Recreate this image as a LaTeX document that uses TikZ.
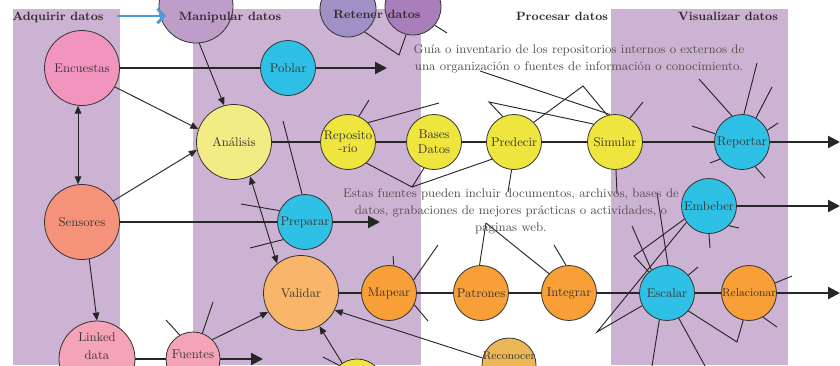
\documentclass[tikz,border=0pt]{standalone}
\usepackage{fontspec}
\usetikzlibrary{arrows.meta}
\definecolor{panel}{HTML}{CDB3D3}
\definecolor{ink}{HTML}{262626}
\definecolor{rim}{HTML}{333333}
\definecolor{labeltxt}{HTML}{3C3434}
\definecolor{notetxt}{HTML}{555050}
\definecolor{headtxt}{HTML}{2E2A2A}
\definecolor{skyarrow}{HTML}{4C9CD8}
\definecolor{pinkA}{HTML}{F295BE}
\definecolor{salmon}{HTML}{F5937A}
\definecolor{pinkB}{HTML}{F5A3B6}
\definecolor{paleyel}{HTML}{F2EC85}
\definecolor{yel}{HTML}{EEE63F}
\definecolor{cyanA}{HTML}{2EC1E5}
\definecolor{apricot}{HTML}{F9B56A}
\definecolor{orng}{HTML}{F8A037}
\definecolor{ochre}{HTML}{EBB757}
\definecolor{purA}{HTML}{BF9DC9}
\definecolor{purB}{HTML}{9F90C6}
\definecolor{purC}{HTML}{A97EBA}
\tikzset{
  bub/.style={circle, draw=rim, line width=0.6pt, inner sep=0pt, text=labeltxt,
              font=\fontsize{9.5}{11}\selectfont, align=center},
  big/.style={bub, minimum size=56.25pt},
  sml/.style={bub, minimum size=41.25pt},
  flow/.style={draw=ink, line width=1.6pt},
  flowend/.style={flow, -{Triangle[length=9pt,width=9pt]}},
  link/.style={draw=ink, line width=0.7pt},
  feed/.style={link, -{Triangle[length=6pt,width=5pt]}},
  twoway/.style={link, {Triangle[length=6pt,width=5pt]}-{Triangle[length=6pt,width=5pt]}},
  phase/.style={font=\bfseries\fontsize{9}{10}\selectfont, text=headtxt, inner sep=0pt},
  note/.style={font=\fontsize{9.35}{12.75}\selectfont, text=notetxt, align=center, inner sep=0pt},
  tag/.style={font=\fontsize{9.5}{13.5}\selectfont, text=labeltxt, align=center, inner sep=0pt},
}
\begin{document}
\begin{tikzpicture}[x=0.75pt,y=-0.75pt]
\useasboundingbox (0,0) rectangle (840,365);
\clip (0,0) rectangle (840,365);

% column bands
\fill[panel] (13,9) rectangle (120,365);
\fill[panel] (193,9) rectangle (421,365);
\fill[panel] (611,9) rectangle (788,365);

% circles along the top edge
\node[bub, minimum size=55.5pt, fill=purA] (manip) at (196,6) {};
\node[bub, minimum size=42pt, fill=purB] (ret1) at (348,9) {};
\node[bub, minimum size=42pt, fill=purC] (ret2) at (413,7) {};

% stage nodes
\node[big, fill=pinkA] (enc) at (82,68) {Encuestas};
\node[sml, fill=cyanA] (pob) at (288,68) {Poblar};

\node[big, fill=paleyel] (ana) at (234,142) {Análisis};
\node[sml, fill=yel, font=\fontsize{9.5}{10}\selectfont] (rep) at (348,142) {Reposito\\-rio};
\node[sml, fill=yel, font=\fontsize{9.5}{11.5}\selectfont] (bas) at (434,142) {Bases\\Datos};
\node[sml, fill=yel] (pre) at (514,142) {Predecir};
\node[sml, fill=yel] (sim) at (615,142) {Simular};
\node[sml, fill=cyanA] (rpt) at (742,142) {Reportar};

\node[big, fill=salmon] (sen) at (82,222) {Sensores};
\node[sml, fill=cyanA] (prep) at (305,222) {Preparar};
\node[sml, fill=cyanA] (emb) at (709,206) {Embeber};

\node[big, fill=apricot] (val) at (301,293) {Validar};
\node[sml, fill=orng] (map) at (389,293) {Mapear};
\node[sml, fill=orng] (pat) at (481,293) {Patrones};
\node[sml, fill=orng] (int) at (569,293) {Integrar};
\node[sml, fill=cyanA] (esc) at (667,293) {Escalar};
\node[sml, fill=orng, font=\fontsize{8.5}{10}\selectfont] (rel) at (749,293) {Relacionar};

\node[bub, minimum size=40.5pt, fill=ochre] (rec) at (509,365) {};
\node[tag, font=\fontsize{8.5}{10}\selectfont] (rect) at (509,356) {Reconocer};
\node[bub, minimum size=57pt, fill=pinkB] (lnk) at (97,359) {};
\node[tag] (lnkt) at (97,346) {Linked\\data};
\node[bub, minimum size=40.5pt, fill=pinkB] (fue) at (193,359) {};
\node[tag] (fuet) at (193,354) {Fuentes};
\node[bub, minimum size=40.5pt, fill=yel] (ylw) at (357,386) {};

% free ends of connectors
\coordinate (b1) at (117,16);  \coordinate (b2) at (166,16);
\coordinate (t1) at (387,68);  \coordinate (t2) at (840,142);
\coordinate (t3) at (380,222); \coordinate (t4) at (840,206);
\coordinate (t5) at (840,293); \coordinate (t6) at (263,359);
\coordinate (f1) at (283,121); \coordinate (f2) at (241,204);
\coordinate (f3) at (250,248); \coordinate (f4) at (399,55);
\coordinate (f5) at (447,33);  \coordinate (f6) at (369,100);
\coordinate (f7) at (439,103); \coordinate (p1) at (412,187);
\coordinate (f8) at (508,192); \coordinate (f9) at (617,194);
\coordinate (q1) at (489,102); \coordinate (q2) at (583,86);
\coordinate (f10) at (480,71); \coordinate (f11) at (643,102);
\coordinate (s1) at (699,79);  \coordinate (s2) at (757,63);
\coordinate (s3) at (772,87);  \coordinate (s4) at (778,123);
\coordinate (s5) at (692,126); \coordinate (s6) at (710,163);
\coordinate (s7) at (765,178);
\coordinate (e1) at (739,228); \coordinate (e2) at (710,248);
\coordinate (r1) at (597,332); \coordinate (r2) at (634,256);
\coordinate (e3) at (632,226); \coordinate (e4) at (657,193);
\coordinate (e5) at (698,267); \coordinate (e6) at (652,366);
\coordinate (e7) at (705,366); \coordinate (r3) at (737,342);
\coordinate (e8) at (792,276); \coordinate (e9) at (777,327);
\coordinate (ap) at (486,223); \coordinate (g1) at (554,245);
\coordinate (g2) at (438,245); \coordinate (g3) at (393,256);
\coordinate (g4) at (428,321);
\coordinate (h1) at (166,320); \coordinate (h2) at (213,302);
\coordinate (h3) at (323,357);

% main flows
\draw[flow] (enc) -- (pob);
\draw[flowend] (pob) -- (t1);
\draw[flow] (ana) -- (rep);
\draw[flow] (rep) -- (bas);
\draw[flow] (bas) -- (pre);
\draw[flow] (pre) -- (sim);
\draw[flow] (sim) -- (rpt);
\draw[flowend] (rpt) -- (t2);
\draw[flow] (sen) -- (prep);
\draw[flowend] (prep) -- (t3);
\draw[flowend] (emb) -- (t4);
\draw[flow] (val) -- (map);
\draw[flow] (map) -- (pat);
\draw[flow] (pat) -- (int);
\draw[flow] (int) -- (esc);
\draw[flow] (esc) -- (rel);
\draw[flowend] (rel) -- (t5);
\draw[flow] (lnk) -- (fue);
\draw[flowend] (fue) -- (t6);

% feeding arrows
\draw[feed] (manip.-85) -- (ana.105);
\draw[feed] (enc.-30) -- (ana.160);
\draw[twoway] (enc.264) -- (sen.96);
\draw[feed] (sen.34) -- (ana.192);
\draw[feed] (sen.-79) -- (lnk.north);
\draw[twoway] (ana.-65) -- (val.129);
\draw[feed] (fue.45) -- (val.210);
\draw[feed] (ylw.123) -- (val.-61);
\draw[feed] (rec.165) -- (val.-27);

% loose links and spokes
\draw[link] (prep.96) -- (f1);
\draw[link] (prep.156) -- (f2);
\draw[link] (prep.219) -- (f3);
\draw[link] (ret1.-54) -- (f4) -- (ret2.256);
\draw[link] (ret2.-40) -- (f5);
\draw[link] (rep.67) -- (f6);
\draw[link] (rep.44) -- (f7);
\draw[link] (rep.-49) -- (p1) -- (bas.249);
\draw[link] (p1) -- (pre.218);
\draw[link] (pre.-95) -- (f8);
\draw[link] (sim.-88) -- (f9);
\draw[link] (pre.114) -- (q1) -- (sim.140);
\draw[link] (pre.45) -- (q2) -- (sim.106);
\draw[link] (f10) -- (sim.100);
\draw[link] (sim.58) -- (f11);
\draw[link] (rpt.111) -- (s1);
\draw[link] (rpt.86) -- (s2);
\draw[link] (rpt.60) -- (s3);
\draw[link] (rpt.25) -- (s4);
\draw[link] (rpt.163) -- (s5);
\draw[link] (rpt.218) -- (s6);
\draw[link] (rpt.-62) -- (s7);
\draw[link] (emb.-45) -- (e1);
\draw[link] (emb.-90) -- (e2);
\draw[link] (emb.216) -- (r1) -- (esc.207);
\draw[link] (emb.208) -- (r2) -- (esc.131);
\draw[link] (e3) -- (esc.124);
\draw[link] (e4) -- (esc.88);
\draw[link] (esc.40) -- (e5);
\draw[link] (esc.-106) -- (e6);
\draw[link] (esc.-65) -- (e7);
\draw[link] (esc.-40) -- (r3) -- (rel.-102);
\draw[link] (rel.21) -- (e8);
\draw[link] (rel.-60) -- (e9);
\draw[link] (ap) -- (pat.93);
\draw[link] (ap) -- (int.136);
\draw[link] (int.96) -- (g1);
\draw[link] (g2) -- (map.28);
\draw[link] (map.80) -- (g3);
\draw[link] (map.-25) -- (g4);
\draw[link] (fue.119) -- (h1);
\draw[link] (fue.70) -- (h2);
\draw[link] (ylw.131) -- (h3);

% stage headings
\node[phase] (hd1) at (58,17) {Adquirir datos};
\node[phase] (hd2) at (230,17) {Manipular datos};
\node[phase] (hd3) at (377,14) {Retener datos};
\node[phase] (hd4) at (562,16) {Procesar datos};
\node[phase] (hd5) at (728,16) {Visualizar datos};
\draw[skyarrow, line width=2.2pt, -{Straight Barb[length=5pt,width=11pt]}] (b1) -- (b2);

% explanatory notes
\node[note] (note1) at (579,59) {Guía o inventario de los repositorios internos o externos de\\una organización o fuentes de información o conocimiento.};
\node[note] (note2) at (511,211) {Estas fuentes pueden incluir documentos, archivos, bases de\\datos, grabaciones de mejores prácticas o actividades, o\\paginas web.};
\end{tikzpicture}
\end{document}
